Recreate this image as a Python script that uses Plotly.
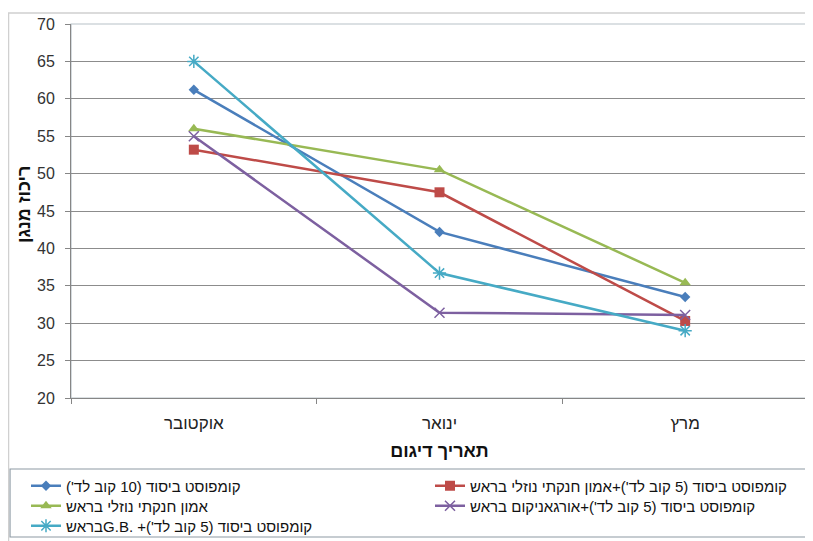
import plotly.graph_objects as go

categories = ["אוקטובר", "ינואר", "מרץ"]
series_names = [
    "קומפוסט ביסוד (10 קוב לד')",
    "קומפוסט ביסוד (5 קוב לד')+אמון חנקתי נוזלי בראש",
    "אמון חנקתי נוזלי בראש",
    "קומפוסט ביסוד (5 קוב לד')+אורגאניקום בראש",
    "קומפוסט ביסוד (5 קוב לד')+ G.B.\u200eבראש",
]
compost10 = [61.2, 42.2, 33.5]
compost5_ammon = [53.2, 47.5, 30.3]
ammon = [56.0, 50.5, 35.4]
compost5_organic = [55.0, 31.4, 31.1]
compost5_gb = [65.0, 36.7, 29.0]
y_ticks = [20, 25, 30, 35, 40, 45, 50, 55, 60, 65, 70]
x_title = "תאריך דיגום"
y_title = "ריכוז מנגן"

values = [compost10, compost5_ammon, ammon, compost5_organic, compost5_gb]
colors = ["#4a7ebb", "#be4b48", "#98b954", "#7d60a0", "#46aac5"]
symbols = ["diamond", "square", "triangle-up", "x-thin-open", "asterisk-open"]
msizes = [8, 10, 10, 10, 11]
legend_ids = ["legend", "legend2", "legend3", "legend4", "legend5"]

# page is drawn with an 8px body offset; work in figure pixels
W, H = 813, 541
L, R, T, B = 63, 13, 16, 151
PW, PH = W - L - R, H - T - B
BOT = T + PH

def fx(px):
    return (px - L) / PW

def fy(py):
    return (BOT - py) / PH

leg_px = [(18, 478), (422, 478), (18, 498), (422, 498), (18, 518)]

def rtl(s):
    return "\u202b" + s + "\u202c"

fig = go.Figure()
for name, vals, c, sym, ms, lid in zip(series_names, values, colors, symbols, msizes, legend_ids):
    fig.add_trace(go.Scatter(
        x=categories, y=vals, name=rtl(name), mode="lines+markers",
        line=dict(color=c, width=2.5), legend=lid,
        marker=dict(symbol=sym, size=ms, color=c, line=dict(color=c, width=1.5 if "open" in sym else 0)),
    ))

font_fam = "Arial, 'Liberation Sans', sans-serif"
legends = {}
for lid, (px, py) in zip(legend_ids, leg_px):
    legends[lid] = dict(
        orientation="v", x=fx(px), xanchor="left", y=fy(py), yanchor="middle",
        font=dict(size=15, color="#111"), bgcolor="rgba(0,0,0,0)", itemwidth=30,
    )

fig.update_layout(
    width=W, height=H,
    margin=dict(l=L, r=R, t=T, b=B, autoexpand=False),
    paper_bgcolor="white", plot_bgcolor="white",
    font=dict(family=font_fam, color="#222"),
    showlegend=True,
    **legends,
    shapes=[
        dict(type="rect", xref="paper", yref="paper", x0=0, x1=1, y0=0, y1=1,
             line=dict(color="#b8c2c8", width=1.2), layer="below"),
        dict(type="rect", xref="paper", yref="paper",
             x0=fx(2), x1=fx(806), y0=fy(529), y1=fy(461),
             line=dict(color="#8d9aa4", width=1.2)),
        dict(type="rect", xref="paper", yref="paper",
             x0=fx(0.5), x1=fx(830), y0=fy(560), y1=fy(5),
             line=dict(color="#d0d0d0", width=1.5)),
    ],
    annotations=[
        dict(text="<b>" + y_title + "</b>", xref="paper", yref="paper",
             x=fx(16), y=fy(197), xanchor="center", yanchor="middle",
             textangle=-90, showarrow=False, font=dict(size=18, color="#111")),
    ],
)
fig.update_xaxes(
    type="category", range=[-0.5, 2.5], tickson="boundaries",
    ticks="outside", ticklen=5, tickcolor="#868686",
    showline=True, linecolor="#868686", linewidth=1,
    showgrid=False, tickfont=dict(size=17, color="#222"), ticklabelstandoff=10,
    title=dict(text="<b>" + x_title + "</b>", font=dict(size=18, color="#111"), standoff=11),
)
fig.update_yaxes(
    range=[20, 70], tickvals=y_ticks, ticks="outside", ticklen=5, tickcolor="#868686",
    showline=True, linecolor="#868686", linewidth=1,
    showgrid=True, gridcolor="#8c8c8c", gridwidth=1, zeroline=False,
    tickfont=dict(size=16, color="#333"), ticklabelstandoff=7,
)
fig.write_html("out.html")
